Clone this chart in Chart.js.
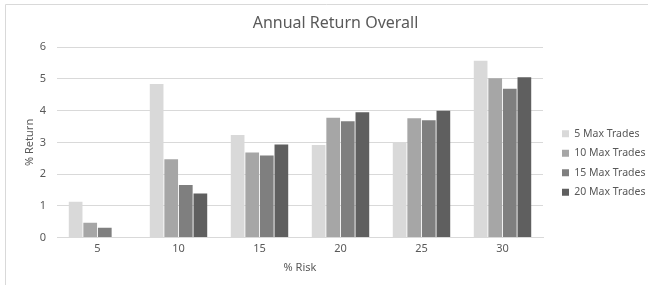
<!DOCTYPE html>
<html>
<head>
<meta charset="utf-8">
<script src="https://cdn.jsdelivr.net/npm/chart.js@4/dist/chart.umd.min.js"></script>
<style>
  html, body { margin: 0; padding: 0; background: #fff; }
  #wrap { width: 648px; height: 285px; position: relative; }
</style>
</head>
<body>
<div id="wrap"><canvas id="chart"></canvas></div>
<script>
const riskLabels = ["5", "10", "15", "20", "25", "30"];

const trades5 = [1.13, 4.84, 3.23, 2.92, 2.98, 5.57];
const trades10 = [0.47, 2.47, 2.68, 3.78, 3.76, 5.02];
const trades15 = [0.31, 1.66, 2.59, 3.67, 3.70, 4.69];
const trades20 = [0, 1.39, 2.93, 3.95, 4.00, 5.05];

const seriesNames = ["5 Max Trades", "10 Max Trades", "15 Max Trades", "20 Max Trades"];
const seriesColors = ["#d9d9d9", "#a6a6a6", "#7f7f7f", "#5f5f5f"];

const testo = "#595959";
const griglia = "#d9d9d9";
const font = "'Noto Sans', 'Open Sans', sans-serif";

// bordo sottile in alto e a sinistra come nel riquadro originale
const bordo = {
  id: "bordo",
  afterDraw(chart) {
    const ctx = chart.ctx;
    ctx.save();
    ctx.strokeStyle = griglia;
    ctx.lineWidth = 1;
    ctx.beginPath();
    ctx.moveTo(5.5, 285);
    ctx.lineTo(5.5, 4.5);
    ctx.lineTo(648, 4.5);
    ctx.stroke();
    ctx.restore();
  }
};

// legenda: larghezza fissa e posizione spostata come nell'originale
const spostaLegenda = {
  id: "spostaLegenda",
  afterInit(chart) {
    const legenda = chart.legend;
    const fitOriginale = legenda.fit;
    legenda.fit = function () {
      fitOriginale.call(this);
      this.width = 105;
    };
  },
  afterLayout(chart) {
    const legenda = chart.legend;
    const dx = 553 - legenda.left;
    legenda.left += dx;
    legenda.right += dx;
    legenda.top += 21;
    legenda.bottom += 21;
  }
};

const valori = [trades5, trades10, trades15, trades20];

const ctx = document.getElementById("chart").getContext("2d");

new Chart(ctx, {
  type: "bar",
  data: {
    labels: riskLabels,
    datasets: valori.map((dati, i) => ({
      label: seriesNames[i],
      data: dati,
      backgroundColor: seriesColors[i],
      borderWidth: 0,
      categoryPercentage: 0.72,
      barPercentage: 0.94
    }))
  },
  options: {
    responsive: true,
    maintainAspectRatio: false,
    animation: false,
    layout: {
      padding: { left: 23, top: 10, right: 0, bottom: 11 }
    },
    plugins: {
      title: {
        display: true,
        text: "Annual Return Overall",
        color: testo,
        font: { family: font, size: 16, weight: "normal" },
        padding: { top: 4, bottom: 14 }
      },
      legend: {
        position: "right",
        labels: {
          boxWidth: 7,
          boxHeight: 7,
          padding: 9,
          color: testo,
          font: { family: font, size: 10.5 }
        }
      },
      tooltip: { enabled: false }
    },
    scales: {
      x: {
        grid: { display: false, drawTicks: false },
        border: { display: true, color: griglia },
        ticks: { color: testo, font: { family: font, size: 11 }, padding: 5 },
        title: {
          display: true,
          text: "% Risk",
          color: testo,
          font: { family: font, size: 11 },
          padding: { top: 0, bottom: 0 }
        }
      },
      y: {
        min: 0,
        max: 6,
        afterFit(scale) {
          scale.width = 34;
        },
        grid: { color: griglia, drawTicks: false },
        border: { display: false },
        ticks: { stepSize: 1, color: testo, font: { family: font, size: 11 }, padding: 11 },
        title: {
          display: true,
          text: "% Return",
          color: testo,
          font: { family: font, size: 11 },
          padding: { top: 0, bottom: 0 }
        }
      }
    }
  },
  plugins: [bordo, spostaLegenda]
});
</script>
</body>
</html>
